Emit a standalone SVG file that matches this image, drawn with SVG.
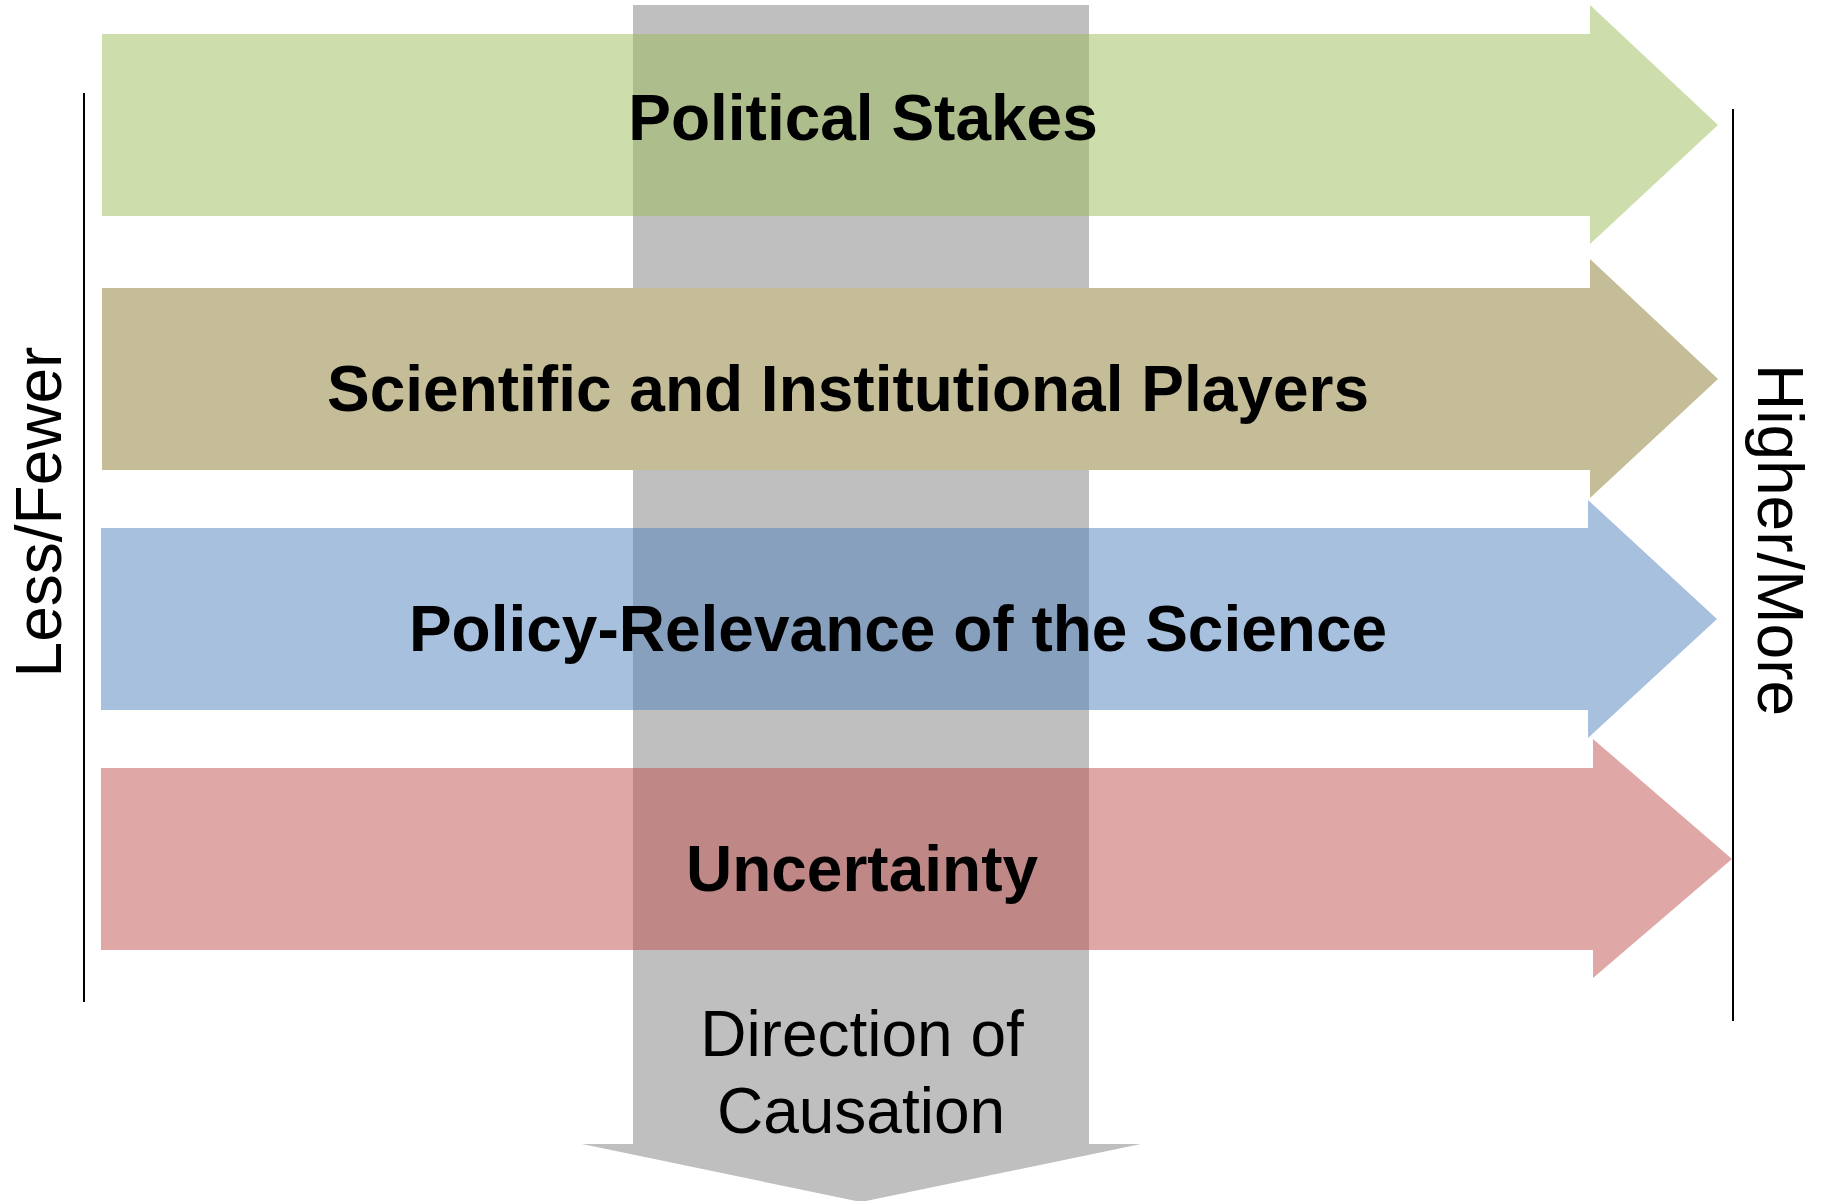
<svg xmlns="http://www.w3.org/2000/svg" width="1823" height="1201" viewBox="0 0 1823 1201">
  <style>
    .lbl { font-family: "Liberation Sans", Arial, sans-serif; font-size: 64px; fill: #000; text-anchor: middle; }
    .bold { font-weight: bold; }
    .axis { stroke: #000; stroke-width: 2; fill: none; }
    .semi { opacity: 0.5; }
  </style>
  <rect width="1823" height="1201" fill="#ffffff"/>

  <g id="causation-arrow">
    <polygon points="633,5 1089,5 1089,1144 1141,1144 861,1202 582,1144 633,1144" fill="#bfbfbf"/>
    <text class="lbl" x="862" y="1056">Direction of</text>
    <text class="lbl" x="861" y="1133">Causation</text>
  </g>

  <g id="political-stakes">
    <polygon class="semi" points="102,34 1590,34 1590,5 1718,125 1590,244 1590,216 102,216" fill="#9bbb59"/>
    <text class="lbl bold" x="863" y="140">Political Stakes</text>
  </g>

  <g id="scientific-players">
    <polygon points="102,288 1590,288 1590,259 1718,379 1590,498 1590,470 102,470" fill="#c4bd97"/>
    <text class="lbl bold" x="848" y="411">Scientific and Institutional Players</text>
  </g>

  <g id="policy-relevance">
    <polygon class="semi" points="101,528 1588,528 1588,500 1717,619 1588,738 1588,710 101,710" fill="#4f81bd"/>
    <text class="lbl bold" x="898" y="651">Policy-Relevance of the Science</text>
  </g>

  <g id="uncertainty">
    <polygon class="semi" points="101,768 1593,768 1593,739 1732,859 1593,978 1593,950 101,950" fill="#c0504d"/>
    <text class="lbl bold" x="862" y="891">Uncertainty</text>
  </g>

  <g id="axis-less">
    <line class="axis" x1="84" y1="93" x2="84" y2="1002"/>
    <text class="lbl" transform="translate(61,512) rotate(-90)">Less/Fewer</text>
  </g>

  <g id="axis-more">
    <line class="axis" x1="1733" y1="109" x2="1733" y2="1021"/>
    <text class="lbl" transform="translate(1758,540) rotate(90)">Higher/More</text>
  </g>

  <g id="connectors"></g>
</svg>
